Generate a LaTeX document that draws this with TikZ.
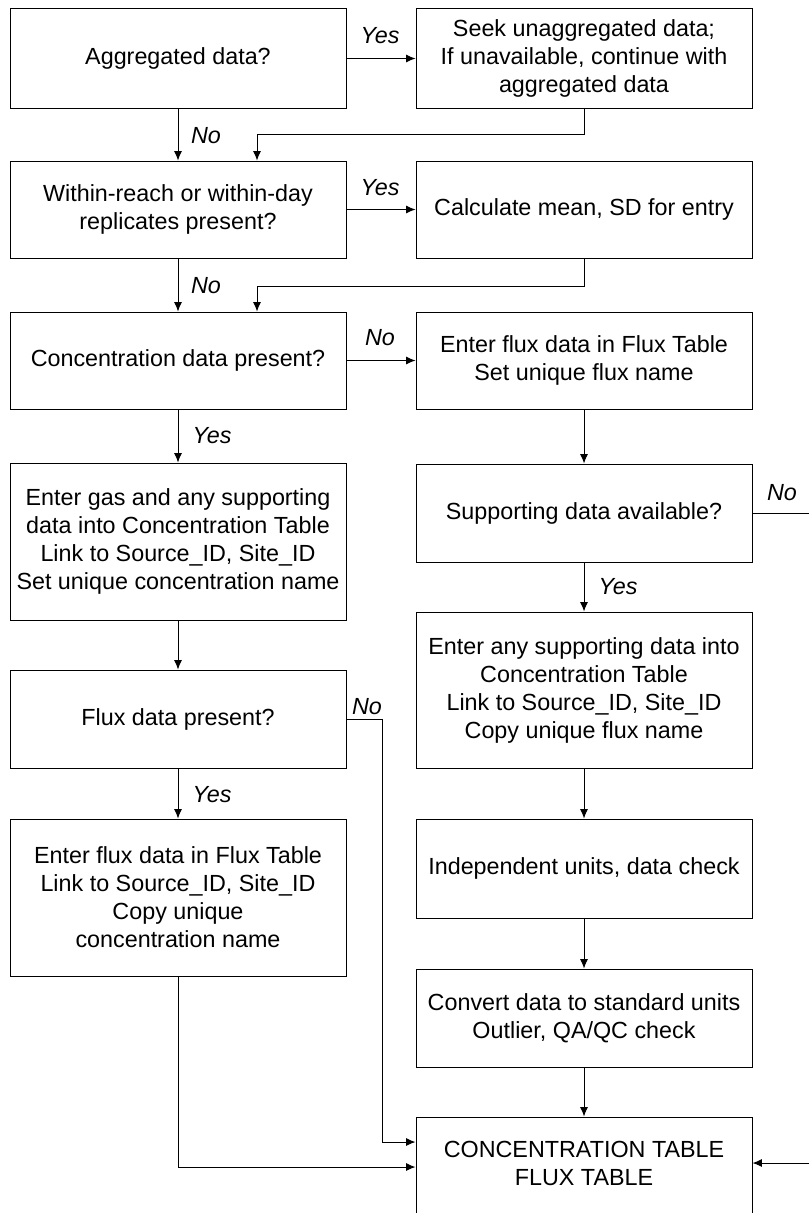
\documentclass[tikz,border=0pt]{standalone}
\usepackage{fontspec}
\setmainfont{Liberation Sans}
\usetikzlibrary{arrows.meta}
\begin{document}
\begin{tikzpicture}[x=0.75pt,y=-0.75pt,
  box/.style={draw=black,line width=0.75pt,rectangle,minimum width=252pt,inner sep=2pt,align=center,
    font=\fontsize{17.5}{21}\selectfont},
  txt/.style={inner sep=0pt,align=center,font=\fontsize{17.5}{21}\selectfont},
  lbl/.style={inner sep=0pt,font=\fontsize{17.5}{21}\selectfont\itshape},
  arr/.style={line width=0.75pt,-{Latex[length=7pt,width=6pt]}},
  ln/.style={line width=0.75pt}]
\useasboundingbox (0,0) rectangle (809,1213);
\clip (0,0) rectangle (809,1213);
% left column
\node[box,minimum height=74.25pt] (A) at (178,58.5) {Aggregated data?};
\node[box,minimum height=72.75pt] (B) at (178,209.5) {Within-reach or within-day\\replicates present?};
\node[box,minimum height=72.75pt] (C) at (178,360.5) {Concentration data present?};
\node[box,minimum height=117.75pt] (D) at (178,541.5) {Enter gas and any supporting\\data into Concentration Table\\Link to Source\_ID, Site\_ID\\Set unique concentration name};
\node[box,minimum height=73.5pt] (E) at (178,719) {Flux data present?};
\node[box,minimum height=117.75pt] (F) at (178,897.5) {Enter flux data in Flux Table\\Link to Source\_ID, Site\_ID\\Copy unique\\concentration name};
% right column
\node[box,minimum height=74.25pt] (R1) at (584,58.5) {Seek unaggregated data;\\If unavailable, continue with\\aggregated data};
\node[box,minimum height=72.75pt] (R2) at (584,209.5) {Calculate mean, SD for entry};
\node[box,minimum height=72.75pt] (R3) at (584,360.5) {Enter flux data in Flux Table\\Set unique flux name};
\node[box,minimum height=73.5pt] (R4) at (584,513) {Supporting data available?};
\node[box,minimum height=117pt] (R5) at (584,690) {Enter any supporting data into\\Concentration Table\\Link to Source\_ID, Site\_ID\\Copy unique flux name};
\node[box,minimum height=74.25pt] (R6) at (584,868.5) {Independent units, data check};
\node[box,minimum height=73.5pt] (R7) at (584,1018) {Convert data to standard units\\Outlier, QA/QC check};
\node[box,minimum height=84.75pt] (R8) at (584,1173.5) {};
\node[txt] (R8t) at (584,1163) {CONCENTRATION TABLE\\FLUX TABLE};
% bend points
\coordinate (j1) at (257,134);
\coordinate (j2) at (257,286);
\coordinate (j4) at (382,1142);
\coordinate (j5) at (178,1167);
\coordinate (j6) at (815,513);
\coordinate (j7) at (815,1163);
% connectors
\draw[arr] (A.east) -- (R1.west);
\draw[arr] (A.south) -- (B.north);
\draw[arr] (R1.south) |- (j1) -- (j1 |- B.north);
\draw[arr] (B.east) -- (R2.west);
\draw[arr] (B.south) -- (C.north);
\draw[arr] (R2.south) |- (j2) -- (j2 |- C.north);
\draw[arr] (C.east) -- (R3.west);
\draw[arr] (C.south) -- (D.north);
\draw[arr] (D.south) -- (E.north);
\draw[arr] (E.south) -- (F.north);
\draw[arr] (E.east) -| (j4) -- (j4 -| R8.west);
\draw[arr] (F.south) |- (j5 -| R8.west);
\draw[arr] (R3.south) -- (R4.north);
\draw[arr] (R4.south) -- (R5.north);
\draw[arr] (R5.south) -- (R6.north);
\draw[arr] (R6.south) -- (R7.north);
\draw[arr] (R7.south) -- (R8.north);
\draw[arr] (R4.east) -- (j6) -- (j7) -- (j7 -| R8.east);
% labels
\node[lbl] (l1) at (380,36) {Yes};
\node[lbl] (l2) at (206,136) {No};
\node[lbl] (l3) at (380,188) {Yes};
\node[lbl] (l4) at (206,286) {No};
\node[lbl] (l5) at (380,338) {No};
\node[lbl] (l6) at (212,436) {Yes};
\node[lbl] (l7) at (782,493) {No};
\node[lbl] (l8) at (618,587) {Yes};
\node[lbl] (l9) at (367,707) {No};
\node[lbl] (l10) at (212,795) {Yes};
\end{tikzpicture}
\end{document}
